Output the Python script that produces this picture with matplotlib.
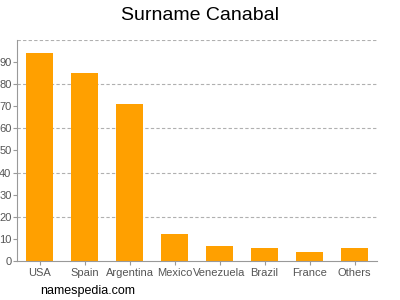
import matplotlib.pyplot as plt

countries = ['USA', 'Spain', 'Argentina', 'Mexico', 'Venezuela', 'Brazil', 'France', 'Others']
counts = [94, 85, 71, 12, 7, 6, 4, 6]

plt.rcParams['font.family'] = ['Liberation Sans', 'DejaVu Sans']

fig = plt.figure(figsize=(4, 3), dpi=100)
ax = fig.add_axes([0.0425, 0.13, 0.9, 0.7367])

ax.bar(range(len(countries)), counts, width=0.62, color='#FFA000', zorder=2)

ax.set_xlim(-0.5, len(countries) - 0.5)
ax.set_ylim(0, 100)
ax.set_yticks(range(0, 100, 10))
ax.set_xticks(range(len(countries)))
ax.set_xticklabels(countries)

for y in range(20, 101, 20):
    ax.axhline(y, color='#b0b0b0', ls=(0, (3, 2)), lw=0.8, zorder=1)

for s in ['top', 'right']:
    ax.spines[s].set_visible(False)
for s in ['left', 'bottom']:
    ax.spines[s].set_color('#999999')
    ax.spines[s].set_linewidth(0.8)

ax.tick_params(axis='both', colors='#999999', labelcolor='#555555', labelsize=8, length=3, width=0.8)
ax.tick_params(axis='x', pad=2)
ax.tick_params(axis='y', pad=1)

fig.text(0.5, 0.95, 'Surname Canabal', ha='center', va='center', fontsize=14)
fig.text(0.1, 0.03, 'namespedia.com', ha='left', va='center', fontsize=9)

fig.savefig('out.png', dpi=100)
